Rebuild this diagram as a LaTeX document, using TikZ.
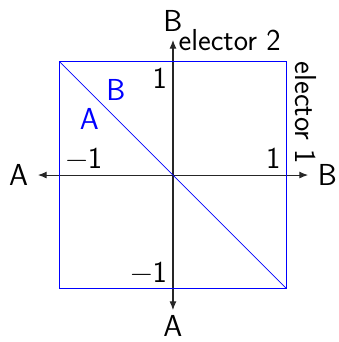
\documentclass[tikz,border=0pt]{standalone}
\usepackage{amsmath}
\usepackage{xcolor}
\usepackage{tikz}
\usetikzlibrary{positioning,arrows.meta,calc}

\begin{document}
\begin{tikzpicture}[x=2.27cm, y=2.27cm, font=\LARGE\sffamily]
\useasboundingbox (-1.524,-1.471) rectangle (1.454,1.542);
% axis ends
\coordinate (O) at (0,0);
\coordinate (xl) at (-1.19,0);
\coordinate (xr) at (1.19,0);
\coordinate (yd) at (0,-1.19);
\coordinate (yu) at (0,1.19);
% axes with tips at both ends
\draw[line width=0.6pt, black!85, {Latex[length=5pt,width=4pt]}-{Latex[length=5pt,width=4pt]}] (xl) -- (xr);
\draw[line width=0.6pt, black!85, {Latex[length=5pt,width=4pt]}-{Latex[length=5pt,width=4pt]}] (yd) -- (yu);
% ticks
\foreach \t in {-1,0,1} {
  \draw[line width=0.6pt, black!85] (\t,-0.07) -- (\t,0.07);
  \draw[line width=0.6pt, black!85] (-0.07,\t) -- (0.07,\t);
}
% axis labels
\node[left=2pt of xl] (lxl) {A};
\node[right=2pt of xr] (lxr) {B};
\node[below=0pt of yd, inner ysep=3pt] (lyd) {A};
\node[above=1pt of yu] (lyu) {B};
\node[right, inner xsep=3pt] (e2) at (yu) {elector 2};
% square of outcomes and the split
\draw[blue] (-1,-1) rectangle (1,1);
\draw[blue] (-1,1) -- (1,-1)
  node[pos=0.19, above right, inner sep=2pt] (sB) {B}
  node[pos=0.19, below left, inner sep=2pt] (sA) {A};
\node[rotate=-90, anchor=south west, inner xsep=0pt, inner ysep=5pt] (e1) at (1,1) {elector 1};
% unit marks
\node[below left] (t1) at (0,1) {1};
\node[above left] (t2) at (0,-1) {−1};
\node[above right] (t3) at (-1,0) {−1};
\node[above left] (t4) at (1,0) {1};
\end{tikzpicture}
\end{document}
